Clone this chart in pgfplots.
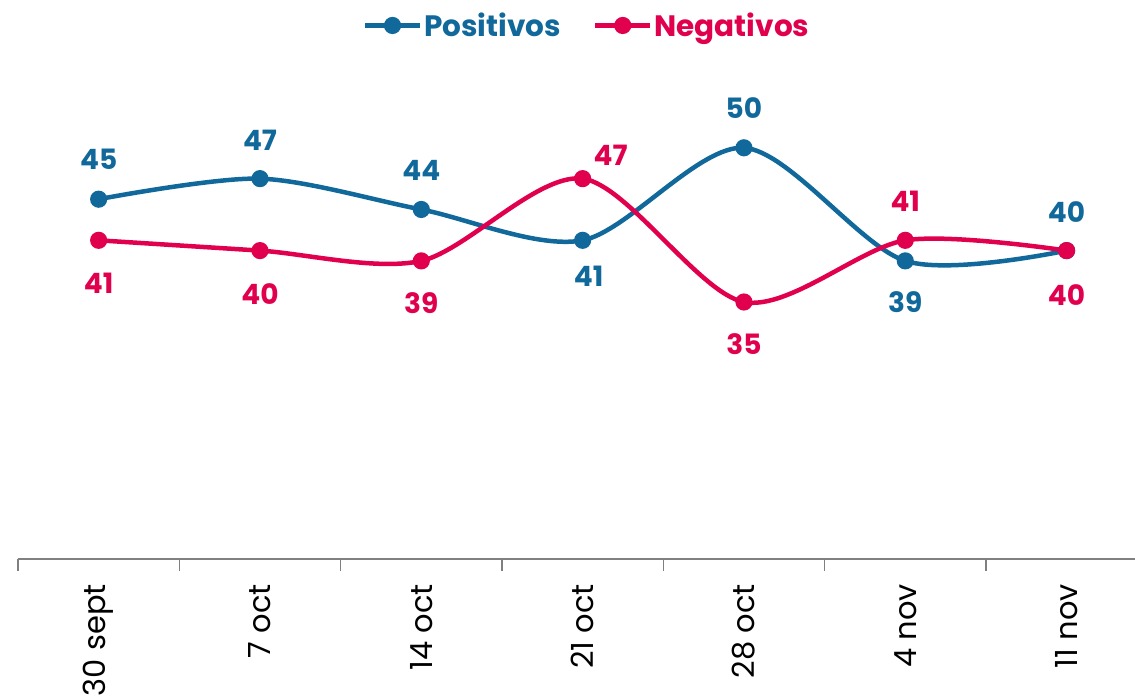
\documentclass[border=0pt]{standalone}
\usepackage{fontspec}
\setmainfont{Poppins}
\usepackage{pgfplots}
\usepackage{pgfplotstable}
\pgfplotsset{compat=1.18}
\definecolor{posblue}{HTML}{10689B}
\definecolor{negred}{HTML}{E0004D}
\definecolor{axg}{HTML}{808080}

\pgfplotstableread{
x y dx dy
0 45 0 40
1 47 0 38
2 44 0 39
3 41 6 -36
4 50 0 40
5 39 0 -41
6 40 0 39
}\postab

\pgfplotstableread{
x y dx dy
0 41 0 -43
1 40 0 -43
2 39 0 -42
3 47 28 23
4 35 0 -42
5 41 0 39
6 40 0 -44
}\negtab

\begin{document}
\begin{tikzpicture}
\path[use as bounding box] (0,0) rectangle (1135bp,700bp);
\begin{axis}[
  at={(18bp,141bp)}, anchor=south west,
  scale only axis, width=1118bp, height=514bp,
  xmin=-0.5, xmax=6.43, ymin=10, ymax=60,
  clip=false,
  /pgf/number format/assume math mode=true,
  axis x line*=bottom, axis y line=none,
  x axis line style={axg, line width=1.6bp},
  xtick={0,...,6},
  xticklabels={30 sept, 7 oct, 14 oct, 21 oct, 28 oct, 4 nov, 11 nov},
  major tick length=0pt,
  major x tick style={draw=none},
  minor xtick={-0.5,0.5,1.5,2.5,3.5,4.5,5.5},
  minor tick length=12bp,
  tick align=outside,
  minor x tick style={axg, line width=1.3bp},
  ytick=\empty,
  xticklabel style={rotate=90, anchor=east, inner sep=0pt, font=\fontsize{30.5bp}{36bp}\selectfont},
  xticklabel shift=25bp,
  legend style={at={(0.509,1.038)}, anchor=center, draw=none, fill=none,
    legend columns=2, font=\bfseries\fontsize{29.5bp}{35bp}\selectfont,
    /tikz/every even column/.append style={column sep=30bp},
    inner sep=0pt},
  legend image code/.code={
    \draw[#1, line width=4.5bp] (0bp,0bp) -- (55bp,0bp);
    \fill[#1] (27.5bp,0bp) circle (6.3bp);
  },
  nodes near coords={\pgfmathprintnumber[assume math mode=true]{\pgfplotspointmeta}},
  nodes near coords align=center,
  visualization depends on={\thisrow{dx} \as \dx},
  visualization depends on={\thisrow{dy} \as \dy},
  every node near coord/.append style={inner sep=0pt, xshift=\dx bp, yshift=\dy bp,
    font=\bfseries\fontsize{28bp}{34bp}\selectfont},
]
\addplot[posblue, line width=4.5bp, smooth, mark=*, mark size=6.3bp,
  mark options={draw=none, fill=posblue},
  every node near coord/.append style={text=posblue}]
  table[x=x, y=y] {\postab};
\addlegendentry{\textcolor{posblue}{Positivos}}
\addplot[negred, line width=4.5bp, smooth, mark=*, mark size=6.3bp,
  mark options={draw=none, fill=negred},
  every node near coord/.append style={text=negred}]
  table[x=x, y=y] {\negtab};
\addlegendentry{\textcolor{negred}{Negativos}}
\end{axis}
\end{tikzpicture}
\end{document}
